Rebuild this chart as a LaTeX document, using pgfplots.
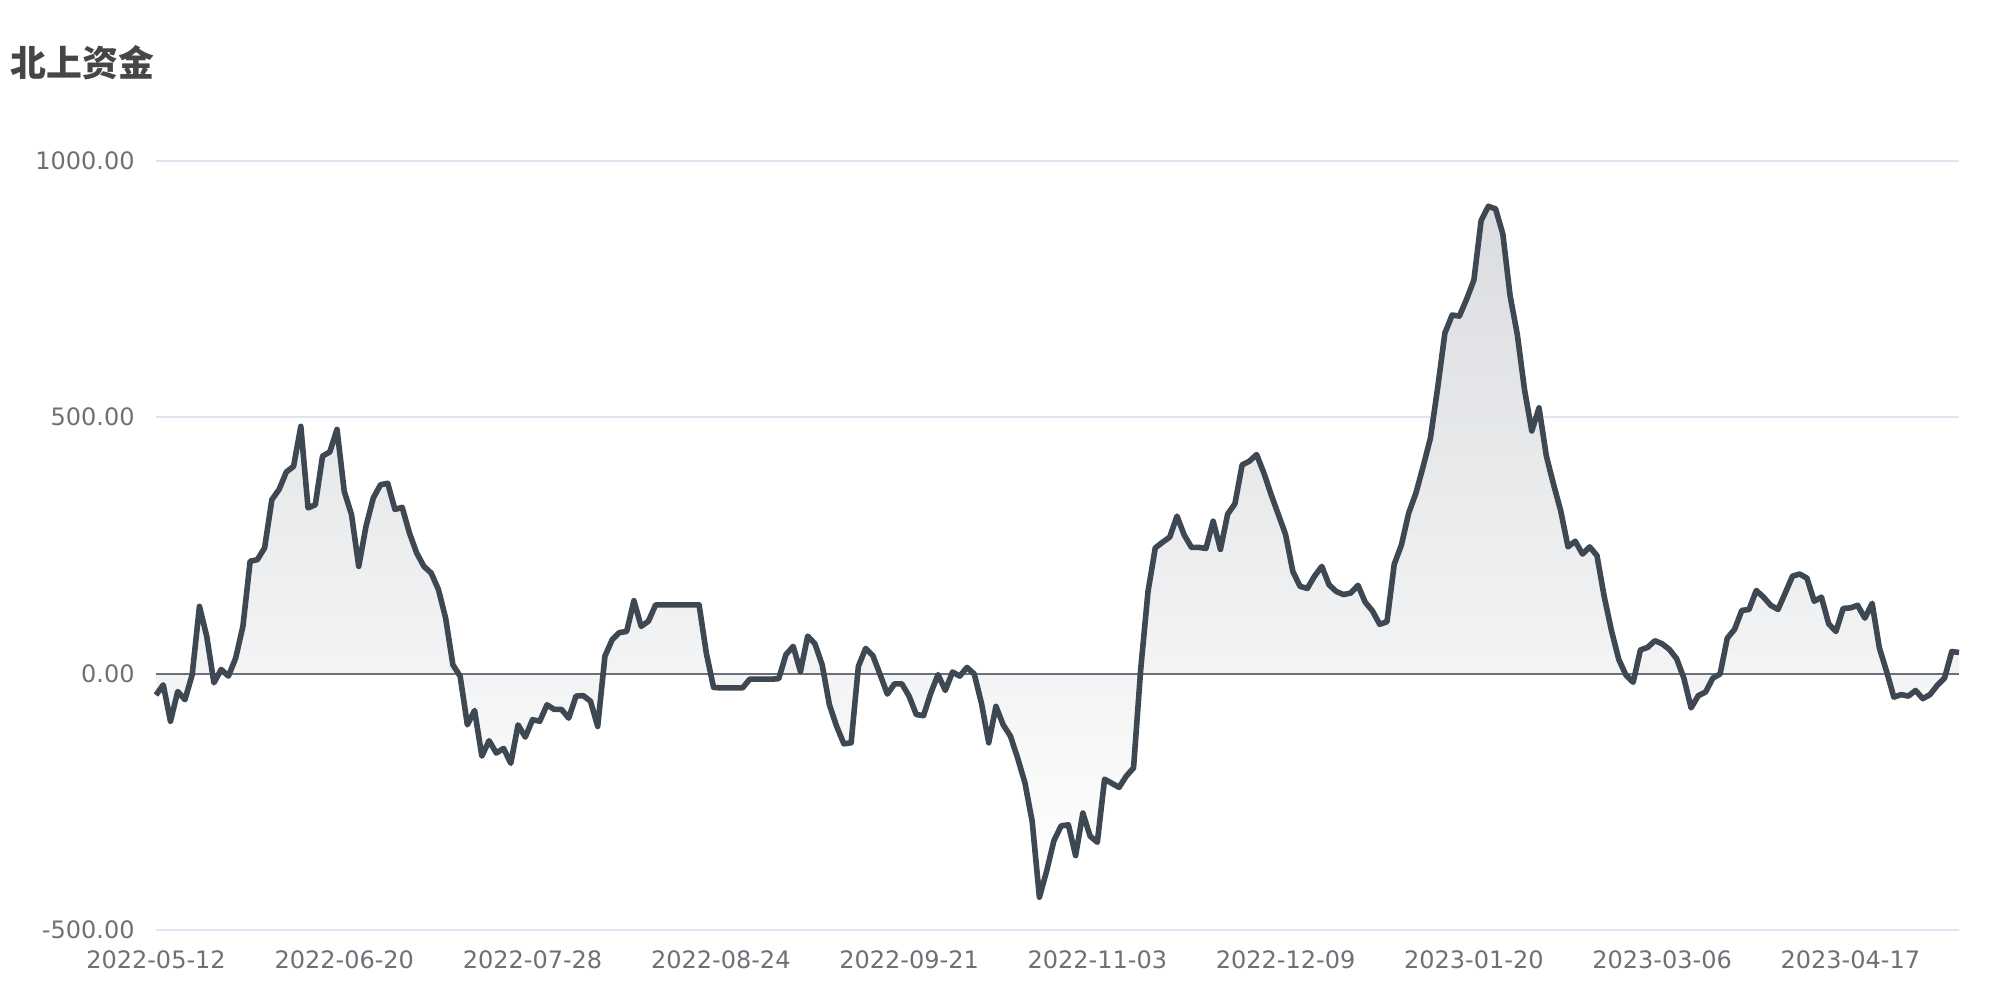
\documentclass[border=0pt]{standalone}
\usepackage{pgfplots}
\usepackage{pgfplotstable}
\pgfplotsset{compat=1.18}
\usepackage{fontspec}
\setmainfont{DejaVu Sans}
\newfontfamily\cjk{Noto Sans CJK SC}
\definecolor{lineC}{RGB}{61,72,82}
\definecolor{gridC}{RGB}{224,230,241}
\definecolor{axisC}{RGB}{110,112,121}
\definecolor{titleC}{RGB}{70,70,70}
\definecolor{fillTop}{RGB}{218,220,223}

\pgfplotstableread{
x y
0 -42
1 -22
2 -93
3 -35
4 -51
5 -2
6 131
7 73
8 -18
9 8
10 -5
11 30
12 92
13 219
14 222
15 245
16 339
17 359
18 393
19 404
20 482
21 323
22 329
23 424
24 432
25 476
26 355
27 310
28 209
29 287
30 342
31 368
32 371
33 320
34 324
35 274
36 235
37 209
38 196
39 164
40 108
41 17
42 -5
43 -100
44 -72
45 -161
46 -131
47 -155
48 -146
49 -175
50 -100
51 -124
52 -90
53 -93
54 -61
55 -70
56 -70
57 -87
58 -44
59 -43
60 -54
61 -103
62 34
63 66
64 80
65 82
66 142
67 92
68 102
69 134
70 134
71 134
72 134
73 134
74 134
75 134
76 40
77 -27
78 -28
79 -28
80 -28
81 -28
82 -11
83 -11
84 -11
85 -11
86 -10
87 37
88 53
89 4
90 73
91 58
92 17
93 -61
94 -103
95 -137
96 -135
97 14
98 49
99 35
100 -2
101 -40
102 -20
103 -20
104 -44
105 -80
106 -82
107 -38
108 -2
109 -33
110 3
111 -5
112 12
113 -1
114 -58
115 -135
116 -64
117 -100
118 -122
119 -165
120 -213
121 -288
122 -436
123 -385
124 -326
125 -297
126 -295
127 -355
128 -272
129 -317
130 -329
131 -206
132 -214
133 -222
134 -200
135 -184
136 10
137 160
138 245
139 256
140 266
141 307
142 270
143 246
144 246
145 244
146 297
147 242
148 311
149 331
150 407
151 414
152 427
153 391
154 349
155 310
156 271
157 199
158 170
159 166
160 190
161 209
162 173
163 160
164 154
165 157
166 172
167 139
168 122
169 96
170 101
171 213
172 251
173 313
174 352
175 404
176 459
177 557
178 664
179 699
180 697
181 730
182 767
183 883
184 911
185 906
186 857
187 737
188 661
189 553
190 473
191 518
192 425
193 369
194 317
195 247
196 258
197 233
198 247
199 230
200 150
201 84
202 28
203 -3
204 -17
205 46
206 51
207 64
208 58
209 47
210 29
211 -9
212 -67
213 -43
214 -36
215 -9
216 -1
217 69
218 86
219 123
220 125
221 162
222 149
223 133
224 125
225 157
226 190
227 194
228 186
229 141
230 149
231 97
232 82
233 127
234 128
235 133
236 108
237 137
238 50
239 4
240 -46
241 -41
242 -44
243 -33
244 -49
245 -41
246 -23
247 -9
248 43
249 41
}\datatable

\begin{document}
\begin{tikzpicture}
\useasboundingbox (0,0) rectangle (200mm,100mm);
\node[anchor=west, inner sep=0pt, text=titleC, font={\cjk\bfseries\fontsize{10.2pt}{12pt}\selectfont}] at (1.0mm,93.75mm) {北上资金};
\begin{axis}[
  at={(15.6mm,7mm)}, anchor=south west,
  scale only axis,
  width=180.3mm, height=76.93mm,
  xmin=0, xmax=249, ymin=-500, ymax=1000,
  axis line style={draw=none},
  major tick length=0pt,
  xtick={0,26,52,78,104,130,156,182,208,234},
  xticklabels={2022-05-12,2022-06-20,2022-07-28,2022-08-24,2022-09-21,2022-11-03,2022-12-09,2023-01-20,2023-03-06,2023-04-17},
  ytick={-500,0,500,1000},
  yticklabels={-500.00,0.00,500.00,1000.00},
  ymajorgrids,
  grid style={draw=gridC, line width=0.2mm},
  tick label style={text=axisC, font=\fontsize{6.83pt}{8pt}\selectfont},
  yticklabel style={xshift=-0.9mm},
  xticklabel style={yshift=-0.8mm},
  clip=false,
]
\addplot[draw=none, top color=fillTop, bottom color=white] table[x=x,y=y] {\datatable} \closedcycle;
\draw[gridC, line width=0.2mm] (axis cs:0,500) -- (axis cs:249,500);
\draw[axisC, line width=0.2mm] (axis cs:0,0) -- (axis cs:249,0);
\addplot[lineC, line width=0.56mm, line join=round, mark=none] table[x=x,y=y] {\datatable};
\end{axis}
\end{tikzpicture}
\end{document}
